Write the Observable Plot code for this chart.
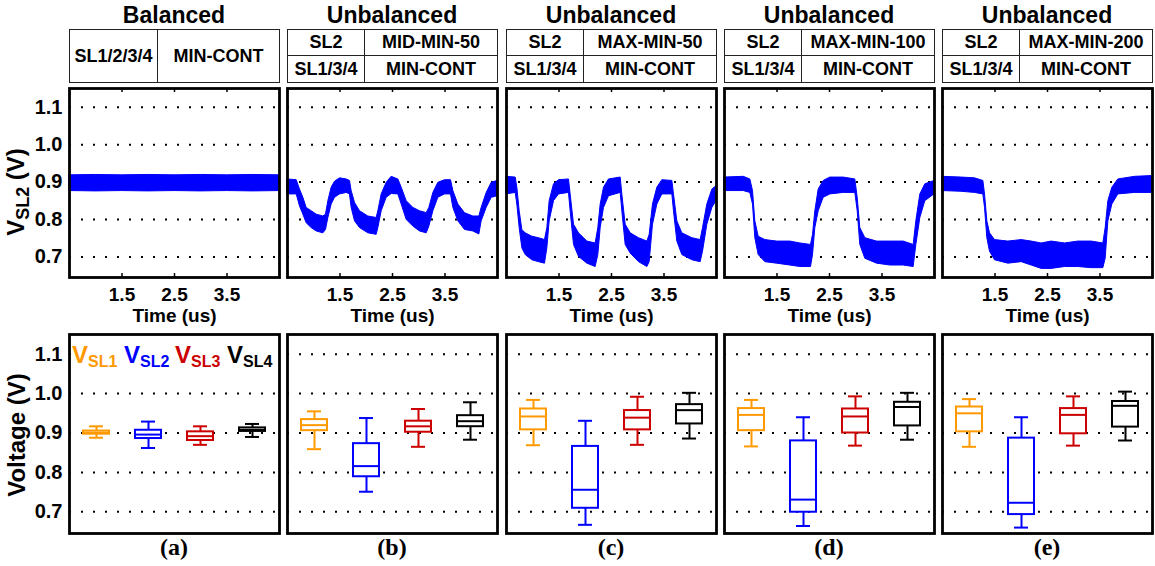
<!DOCTYPE html>
<html><head><meta charset="utf-8">
<script src="https://cdn.jsdelivr.net/npm/d3@7"></script>
<script src="https://cdn.jsdelivr.net/npm/@observablehq/plot@0.6"></script>
<style>
body{margin:0;background:#fff;font-family:"Liberation Sans",Arial,sans-serif;font-weight:bold;color:#000;}
#root{position:relative;width:1155px;height:566px;overflow:hidden;background:#fff;}
.abs{position:absolute;}
.title{font-size:23px;line-height:22px;text-align:center;white-space:nowrap;}
.hdr{position:absolute;border:1.2px solid #222;box-sizing:border-box;font-size:18px;}
.cell{position:absolute;display:flex;align-items:center;justify-content:center;white-space:nowrap;box-sizing:border-box;}
.sub{font-family:"Liberation Serif","Times New Roman",serif;font-weight:bold;font-size:24px;line-height:24px;text-align:center;}
.rot{position:absolute;transform:translate(-50%,-50%) rotate(-90deg);white-space:nowrap;font-size:24px;line-height:24px;}
.leg{position:absolute;white-space:nowrap;line-height:22px;}
</style></head>
<body><div id="root"></div>
<script>
// ---------- DATA ----------
const panelTitles = ["Balanced","Unbalanced","Unbalanced","Unbalanced","Unbalanced"];
const row1Left  = ["SL1/2/3/4","SL2","SL2","SL2","SL2"];
const row1Right = ["MIN-CONT","MID-MIN-50","MAX-MIN-50","MAX-MIN-100","MAX-MIN-200"];
const row2Left  = [null,"SL1/3/4","SL1/3/4","SL1/3/4","SL1/3/4"];
const row2Right = [null,"MIN-CONT","MIN-CONT","MIN-CONT","MIN-CONT"];
const panelLabels = ["(a)","(b)","(c)","(d)","(e)"];
const series = ["SL1","SL2","SL3","SL4"];
const seriesColors = ["#FF9900","#0000FF","#CC0000","#000000"];
const yTicks = [0.7,0.8,0.9,1.0,1.1];
const xTicks = [1.5,2.5,3.5];

// V_SL2 waveform envelopes (time in us, upper/lower edge of the noisy band in V)
const timeA = [0.5,1.0,1.5,2.0,2.5,3.0,3.5,4.0,4.5];
const hiA   = [0.918,0.919,0.918,0.919,0.918,0.919,0.918,0.919,0.918];
const loA   = [0.876,0.875,0.876,0.875,0.876,0.875,0.876,0.875,0.876];

const timeB = [0.5,0.675,0.738,0.802,0.865,0.96,1.056,1.183,1.233,1.278,1.341,1.405,1.5,1.627,1.69,1.722,1.786,1.881,2.04,2.198,2.23,2.294,2.389,2.484,2.611,2.675,2.77,2.897,3.024,3.151,3.202,3.278,3.373,3.5,3.614,3.659,3.754,3.881,4.04,4.154,4.198,4.294,4.389,4.5];
const hiB   = [0.907,0.905,0.880,0.858,0.831,0.822,0.813,0.808,0.813,0.849,0.885,0.901,0.910,0.907,0.903,0.876,0.844,0.822,0.808,0.804,0.822,0.867,0.898,0.914,0.907,0.885,0.849,0.831,0.822,0.817,0.831,0.871,0.898,0.905,0.905,0.876,0.840,0.817,0.808,0.808,0.831,0.871,0.898,0.903];
const loB   = [0.867,0.867,0.835,0.813,0.790,0.777,0.768,0.763,0.772,0.804,0.840,0.858,0.867,0.871,0.867,0.831,0.795,0.777,0.763,0.759,0.777,0.822,0.858,0.868,0.867,0.840,0.799,0.781,0.768,0.763,0.781,0.822,0.858,0.867,0.867,0.831,0.795,0.772,0.768,0.760,0.795,0.831,0.858,0.862];

const timeC = [0.5,0.675,0.706,0.751,0.802,0.865,0.992,1.119,1.233,1.278,1.322,1.405,1.5,1.69,1.722,1.786,1.881,2.04,2.198,2.249,2.294,2.357,2.452,2.675,2.706,2.77,2.865,3.024,3.183,3.227,3.29,3.373,3.468,3.659,3.69,3.754,3.849,4.04,4.198,4.243,4.325,4.421,4.5];
const hiC   = [0.914,0.912,0.885,0.822,0.772,0.763,0.754,0.750,0.745,0.777,0.849,0.894,0.905,0.907,0.867,0.786,0.763,0.741,0.736,0.777,0.840,0.885,0.907,0.912,0.867,0.786,0.763,0.750,0.741,0.759,0.840,0.885,0.905,0.903,0.867,0.795,0.763,0.750,0.745,0.777,0.840,0.880,0.889];
const loC   = [0.867,0.871,0.840,0.777,0.723,0.705,0.691,0.686,0.682,0.723,0.795,0.849,0.867,0.871,0.822,0.732,0.700,0.682,0.673,0.705,0.777,0.831,0.862,0.871,0.822,0.732,0.709,0.686,0.673,0.686,0.786,0.840,0.867,0.867,0.822,0.741,0.705,0.691,0.686,0.714,0.786,0.831,0.849];

const timeD = [0.5,0.865,0.992,1.043,1.087,1.151,1.278,1.5,1.754,1.944,2.148,2.186,2.23,2.294,2.389,2.516,2.77,2.992,3.037,3.087,3.183,3.405,3.659,3.913,4.103,4.154,4.23,4.325,4.5];
const hiD   = [0.912,0.914,0.907,0.876,0.795,0.754,0.745,0.741,0.741,0.736,0.732,0.759,0.822,0.880,0.903,0.912,0.912,0.907,0.858,0.777,0.750,0.741,0.741,0.741,0.732,0.795,0.867,0.894,0.903];
const loD   = [0.876,0.876,0.871,0.840,0.750,0.705,0.686,0.682,0.677,0.673,0.673,0.705,0.777,0.822,0.858,0.867,0.871,0.871,0.822,0.732,0.695,0.682,0.677,0.677,0.673,0.732,0.804,0.849,0.867];

const timeE = [0.5,0.865,1.119,1.278,1.31,1.354,1.405,1.5,1.754,2.008,2.198,2.389,2.579,2.833,3.087,3.341,3.563,3.608,3.659,3.735,3.849,4.167,4.5];
const hiE   = [0.914,0.912,0.910,0.903,0.867,0.795,0.763,0.745,0.741,0.745,0.741,0.736,0.741,0.736,0.741,0.741,0.736,0.777,0.849,0.885,0.907,0.914,0.916];
const loE   = [0.876,0.874,0.871,0.867,0.831,0.750,0.714,0.691,0.682,0.686,0.677,0.668,0.668,0.673,0.673,0.670,0.670,0.695,0.795,0.840,0.867,0.871,0.871];

// Box-plot statistics per panel (a..e), order SL1, SL2, SL3, SL4
const boxMin = [[0.888,0.862,0.870,0.890],[0.859,0.751,0.865,0.883],[0.869,0.667,0.870,0.886],[0.866,0.664,0.868,0.883],[0.865,0.660,0.868,0.881]];
const boxQ1  = [[0.897,0.886,0.881,0.904],[0.906,0.789,0.902,0.916],[0.908,0.709,0.908,0.923],[0.906,0.699,0.900,0.918],[0.903,0.693,0.898,0.915]];
const boxMed = [[0.901,0.896,0.892,0.908],[0.920,0.816,0.917,0.930],[0.942,0.756,0.939,0.958],[0.946,0.731,0.942,0.966],[0.950,0.723,0.946,0.969]];
const boxQ3  = [[0.905,0.907,0.903,0.913],[0.934,0.873,0.930,0.944],[0.961,0.866,0.957,0.972],[0.962,0.880,0.961,0.978],[0.966,0.887,0.962,0.980]];
const boxMax = [[0.917,0.929,0.917,0.923],[0.955,0.938,0.961,0.978],[0.984,0.931,0.992,1.002],[0.984,0.940,0.993,1.002],[0.986,0.940,0.993,1.005]];

// ---------- LAYOUT ----------
const waveTimes = [timeA,timeB,timeC,timeD,timeE];
const waveHi = [hiA,hiB,hiC,hiD,hiE];
const waveLo = [loA,loB,loC,loD,loE];
const panelLeft = [69,287,506,724,942];
const FW = 210;
const yDomain = [0.645,1.15];
const root = document.getElementById("root");
const font = '"Liberation Sans",Arial,sans-serif';

function place(el, left, top){
  const w = document.createElement("div");
  w.className = "abs"; w.style.left = left+"px"; w.style.top = top+"px";
  w.appendChild(el); root.appendChild(w); return w;
}
function div(cls, html, css){
  const d = document.createElement("div"); d.className = cls; d.innerHTML = html;
  Object.assign(d.style, css); root.appendChild(d); return d;
}

function topPlot(i){
  const rows = waveTimes[i].map((t,k)=>({t, hi: waveHi[i][k], lo: waveLo[i][k]}));
  const ml = i===0 ? 69 : 3, fh = 189;
  const marks = [
    Plot.ruleY(yTicks, {stroke:"#000", strokeWidth:2, strokeDasharray:"2 10"}),
    Plot.areaY(rows, {x:"t", y1:"lo", y2:"hi", fill:"#0000FF", stroke:"#0000FF", strokeWidth:1}),
    Plot.ruleX(xTicks, {insetBottom: fh-4, stroke:"#000", strokeWidth:1.5}),
    Plot.ruleX(xTicks, {insetTop: fh-4, stroke:"#000", strokeWidth:1.5}),
    Plot.axisX({ticks: xTicks, tickSize:0, tickPadding:10, tickFormat: d=>d.toFixed(1), label:null, fontSize:19}),
    Plot.text(["Time (us)"], {text: d=>d, frameAnchor:"bottom", lineAnchor:"top", dy:31, fontSize:19}),
    Plot.frame({stroke:"#000", strokeWidth:2.8})
  ];
  if (i===0) marks.push(Plot.axisY({ticks:yTicks, tickSize:0, tickPadding:7, tickFormat:d=>d.toFixed(1), label:null, fontSize:20}));
  return Plot.plot({
    width: ml+FW+3, height: 2+fh+52,
    marginLeft: ml, marginRight: 3, marginTop: 2, marginBottom: 52,
    x: {domain:[0.5,4.5], axis:null}, y: {domain:yDomain, axis:null},
    style: {fontFamily: font, fontWeight:"bold", color:"#000", background:"transparent", overflow:"visible"},
    marks
  });
}

function boxPlot(i){
  const rows = series.map((s,k)=>({s, c: seriesColors[k], min: boxMin[i][k], q1: boxQ1[i][k], med: boxMed[i][k], q3: boxQ3[i][k], max: boxMax[i][k]}));
  const ml = i===0 ? 69 : 3, fh = 199;
  const marks = [
    Plot.ruleY(yTicks, {stroke:"#000", strokeWidth:2, strokeDasharray:"2 10"}),
    Plot.ruleX(rows, {x:"s", y1:"min", y2:"max", stroke:"c", strokeWidth:2}),
    Plot.tickY(rows, {x:"s", y:"min", stroke:"c", strokeWidth:2, insetLeft:19, insetRight:19}),
    Plot.tickY(rows, {x:"s", y:"max", stroke:"c", strokeWidth:2, insetLeft:19, insetRight:19}),
    Plot.barY(rows, {x:"s", y1:"q1", y2:"q3", fill:"#fff", stroke:"c", strokeWidth:2, insetLeft:13, insetRight:13}),
    Plot.tickY(rows, {x:"s", y:"med", stroke:"c", strokeWidth:2, insetLeft:13, insetRight:13}),
    Plot.frame({stroke:"#000", strokeWidth:2.8})
  ];
  if (i===0) marks.push(Plot.axisY({ticks:yTicks, tickSize:0, tickPadding:7, tickFormat:d=>d.toFixed(1), label:null, fontSize:20}));
  return Plot.plot({
    width: ml+FW+3, height: 2+fh+2,
    marginLeft: ml, marginRight: 3, marginTop: 2, marginBottom: 2,
    x: {type:"band", domain: series, padding:0, axis:null},
    y: {domain:yDomain, axis:null},
    color: {type:"identity"},
    style: {fontFamily: font, fontWeight:"bold", color:"#000", background:"transparent", overflow:"visible"},
    marks
  });
}

for (let i=0;i<5;i++){
  const L = panelLeft[i];
  div("abs title", panelTitles[i], {left:L+"px", top:"4px", width:FW+"px"});
  const hdr = div("hdr", "", {left:L+"px", top:"29px", width:(FW+1)+"px", height:"54px"});
  const splitX = i===0 ? 88 : 77;
  const mk = (txt, x, y, w, h, borders) => {
    const c = document.createElement("div"); c.className = "cell"; c.textContent = txt;
    Object.assign(c.style, {left:x+"px", top:y+"px", width:w+"px", height:h+"px"}, borders);
    hdr.appendChild(c);
  };
  if (i===0){
    mk(row1Left[i], 0, 0, splitX, 52, {borderRight:"1.2px solid #222"});
    mk(row1Right[i], splitX, 0, FW-1-splitX, 52, {});
  } else {
    mk(row1Left[i], 0, 0, splitX, 26, {borderRight:"1.2px solid #222", borderBottom:"1.2px solid #222"});
    mk(row1Right[i], splitX, 0, FW-1-splitX, 26, {borderBottom:"1.2px solid #222"});
    mk(row2Left[i], 0, 26, splitX, 26, {borderRight:"1.2px solid #222"});
    mk(row2Right[i], splitX, 26, FW-1-splitX, 26, {});
  }
  const ml = i===0 ? 69 : 3;
  place(topPlot(i), L-ml, 86);
  place(boxPlot(i), L-ml, 332);
  div("abs sub", panelLabels[i], {left:L+"px", top:"535px", width:FW+"px"});
}

// y titles
div("rot", 'V<span style="font-size:18px;position:relative;top:5px">SL2</span> (V)', {left:"17px", top:"192px"});
div("rot", 'Voltage (V)', {left:"17px", top:"435px"});

// legend inside panel (a) box plot (white backing hides the 1.1 grid row, as in the reference)
div("abs", "", {left:"71px", top:"343px", width:"206px", height:"28px", background:"#fff"});
const legX = [72,124,175,227];
series.forEach((s,k)=>{
  div("leg", `<span style="font-size:24px">V</span><span style="font-size:16px;position:relative;top:4px">${s}</span>`,
      {left:legX[k]+"px", top:"344px", color:seriesColors[k]});
});
</script>
</body></html>
